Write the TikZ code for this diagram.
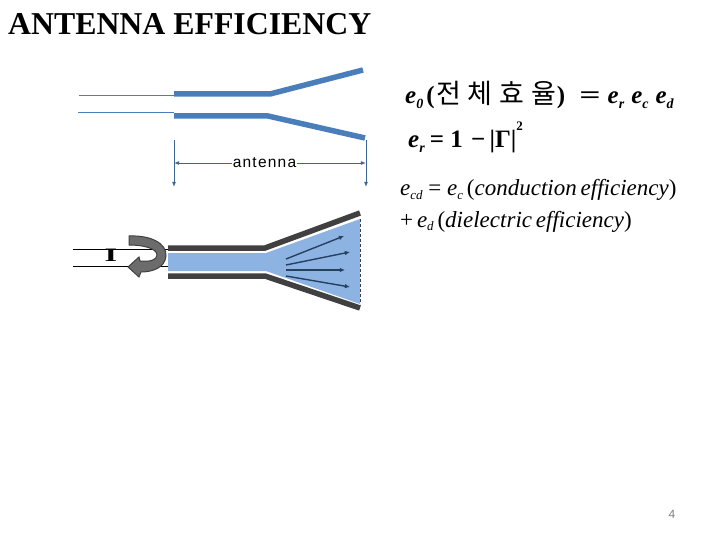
\documentclass[tikz,border=0pt]{standalone}
\usepackage{xcolor}
\usepackage{graphicx}
\usepackage{fontspec}
\setmainfont{Liberation Serif}
\newfontfamily\labelfont[LetterSpace=8]{Liberation Sans}
\newfontfamily\pagefont{Liberation Sans}
\newfontfamily\hangulfont{Noto Sans CJK KR}
\usetikzlibrary{positioning,arrows.meta}
\definecolor{wireblue}{HTML}{4A7EBB}
\definecolor{wavefill}{HTML}{8DB3E2}
\definecolor{wallgray}{HTML}{404040}
\definecolor{raynavy}{HTML}{254061}
\newcommand{\effsym}[1]{\textbf{\textit{e}}\raisebox{-.35ex}{\fontsize{14}{14}\selectfont\textbf{\textit{#1}}}}
\newcommand{\effit}[1]{\textit{e}\raisebox{-.35ex}{\fontsize{13}{13}\selectfont\textit{#1}}}

\begin{document}
\begin{tikzpicture}[
		x=1pt,y=-1pt,
		feedline/.style={draw=wireblue, line width=0.8pt},
		armline/.style={draw=wireblue, line width=5.5pt},
		wallline/.style={draw=wallgray, line width=5.5pt},
		dimline/.style={draw=wireblue!80!black, line width=0.9pt},
		dimarrow/.style={dimline, -{Latex[length=1.8mm,width=1.4mm]}},
		rayarrow/.style={draw=raynavy, line width=1.4pt, -{Latex[length=1.8mm,width=1.6mm]}},
		formula/.style={anchor=base west, inner sep=0pt, font=\fontsize{25}{28}\selectfont}
		]
		\useasboundingbox (0,0) rectangle (720,540);
		\fill[white] (0,0) rectangle (720,540);
		
		% Title
		\node[anchor=base west, inner sep=0pt, font=\fontsize{31.8}{36}\selectfont\bfseries] (title) at (8,35) {ANTENNA EFFICIENCY};
		
		% Upper sketch: wire antenna
		\coordinate (feedA) at (79,95);
		\coordinate (feedB) at (78,112);
		\coordinate (armAstart) at (174,94);
		\coordinate (armAbend) at (270,94);
		\coordinate (armAend) at (363,70);
		\coordinate (armBstart) at (174,116);
		\coordinate (armBbend) at (268,116);
		\coordinate (armBend) at (365,138);
		\draw[feedline] (feedA) -- (armAstart |- feedA);
		\draw[feedline] (feedB) -- (armBstart |- feedB);
		\draw[armline] (armAstart) -- (armAbend) -- (armAend);
		\draw[armline] (armBstart) -- (armBbend) -- (armBend);
		
		% Dimension lines
		\coordinate (dimLtop) at (174,140);
		\coordinate (dimLend) at (174,187);
		\coordinate (dimRtop) at (366,140);
		\coordinate (dimRend) at (366,187);
		\node[inner sep=1pt, font=\fontsize{15.5}{17}\selectfont\labelfont] (antennalabel) at (264.5,163) {antenna};
		\draw[dimarrow] (dimLtop) -- (dimLend);
		\draw[dimarrow] (dimRtop) -- (dimRend);
		\draw[dimarrow] (antennalabel.west) -- (dimLtop |- antennalabel.west);
		\draw[dimarrow] (antennalabel.east) -- (dimRtop |- antennalabel.east);
		
		% Lower sketch: flared guide with field
		\coordinate (wallAstart) at (168,248);
		\coordinate (wallAbend) at (265,248);
		\coordinate (wallAend) at (360,213);
		\coordinate (wallBstart) at (168,276);
		\coordinate (wallBbend) at (265,276);
		\coordinate (wallBend) at (360,308);
		\fill[wavefill] (168,253) -- (266,253) -- (360,219) -- (360,304) -- (266,271) -- (168,271) -- cycle;
		\draw[wallgray, line width=0.5pt, densely dashed] (360,219) -- (360,304);
		\draw[wallline] (wallAstart) -- (wallAbend) -- (wallAend);
		\draw[wallline] (wallBstart) -- (wallBbend) -- (wallBend);
		\coordinate (feedC) at (73,249);
		\coordinate (feedD) at (73,266);
		\draw[black, line width=0.7pt] (feedC) -- (wallAstart |- feedC);
		\draw[black, line width=0.7pt] (feedD) -- (wallAstart |- feedD);
		
		% Radiated rays
		\coordinate (rayA) at (286,259);
		\coordinate (rayB) at (286,265);
		\coordinate (rayC) at (286,270);
		\coordinate (rayD) at (286,276);
		\coordinate (rayAend) at (344,236);
		\coordinate (rayBend) at (350,252);
		\coordinate (rayCend) at (345,270);
		\coordinate (rayDend) at (350,287);
		\draw[rayarrow] (rayA) -- (rayAend);
		\draw[rayarrow] (rayB) -- (rayBend);
		\draw[rayarrow] (rayC) -- (rayCend);
		\draw[rayarrow] (rayD) -- (rayDend);
		
		% Reflection
		\node[inner sep=0pt, xscale=1.7, font=\fontsize{19}{20}\selectfont\bfseries] (gammalabel) at (111,255) {I};
		\draw[wallgray, line width=1pt, fill=gray!85!black]
			(129,236) .. controls (150,235) and (167,243) .. (166,256)
			.. controls (165,268) and (152,272) .. (141,272)
			-- (139,277) -- (128,267) -- (139,257) -- (140,261)
			.. controls (150,262) and (157,260) .. (157,255)
			.. controls (157,249) and (145,245) .. (129,245) -- cycle;
		
		% Formulas
		\node[formula] (eqtotal) at (405,104) {\effsym{0}\hspace{3pt}\textbf{(}\hspace{2pt}{\hangulfont\fontsize{27}{30}\selectfont 전\hspace{6pt}체\hspace{7pt}효\hspace{7pt}율}\hspace{1pt}\textbf{)}\hspace{14pt}\scalebox{1.5}[1]{\textbf{=}}\hspace{7pt}\effsym{r}\hspace{7pt}\effsym{c}\hspace{7pt}\effsym{d}};
		\node[formula] (eqreflect) at (408,148) {\effsym{r}\hspace{5pt}\textbf{= 1}\hspace{2pt} \textbf{−}\,\textbf{|}\textbf{Γ}\textbf{|}\raisebox{1.5ex}{\fontsize{13}{13}\selectfont\textbf{2}}};
		\node[formula, font=\fontsize{23}{26}\selectfont] (eqcd) at (400,196) {\effit{cd} = \effit{c}\,(\textit{conduction\,efficiency})};
		\node[formula, font=\fontsize{23}{26}\selectfont] (eqdiel) at (400,227) {+\,\effit{d}\,(\textit{dielectric\,efficiency})};
		
		% Page number
		\node[inner sep=0pt, text=gray, font=\fontsize{12}{14}\selectfont\pagefont] (pagenum) at (672,514) {4};
		
	\end{tikzpicture}
\end{document}
